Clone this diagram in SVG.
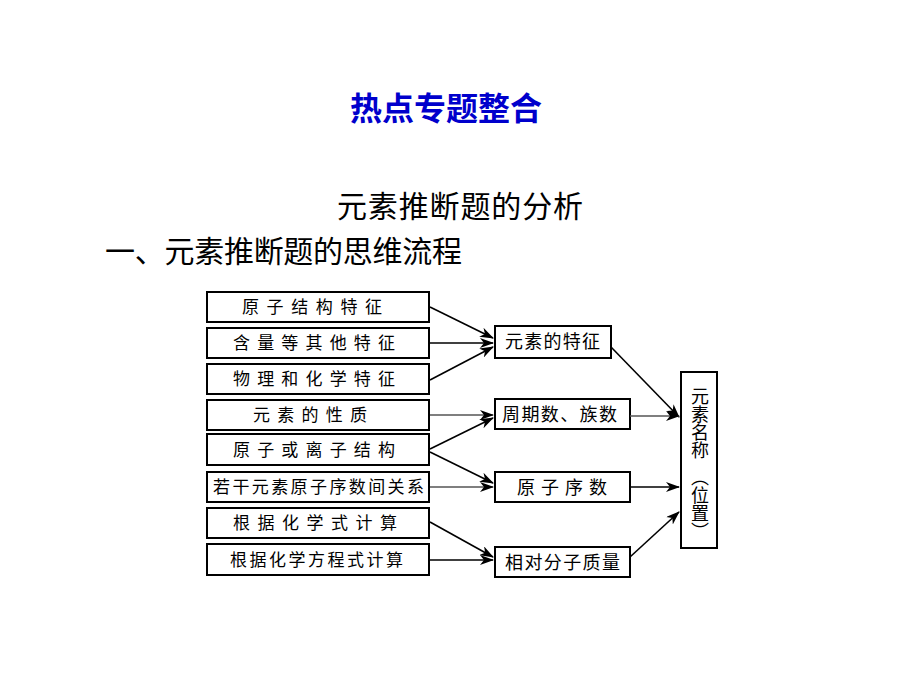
<svg xmlns="http://www.w3.org/2000/svg" width="920" height="690" viewBox="0 0 920 690">
<defs>
<style>
.bx{fill:#fff;stroke:#000;stroke-width:2}
.t{font-family:"Noto Sans CJK SC","Noto Sans CJK JP",sans-serif;fill:#000}
.lb{font-size:17px}
.mb{font-size:18px}
.vt{font-size:18px;writing-mode:vertical-rl}
.ln{stroke:#000;stroke-width:1.6;fill:none;marker-end:url(#ah)}
.lg{stroke:#555;stroke-width:1.3;fill:none;marker-end:url(#ah)}
</style>
<marker id="ah" viewBox="0 0 14 10" refX="13" refY="5" markerWidth="14" markerHeight="10" markerUnits="userSpaceOnUse" orient="auto">
<path d="M0,0 L14,5 L0,10 L4,5 Z" fill="#000"/>
</marker>
</defs>
<rect width="920" height="690" fill="#fff"/>
<text class="t" x="446" y="120" text-anchor="middle" font-size="32" font-weight="bold" style="fill:#0000cc">热点专题整合</text>
<text class="t" x="337" y="217" font-size="30" textLength="246" lengthAdjust="spacing">元素推断题的分析</text>
<text class="t" x="105" y="262" font-size="30" textLength="357" lengthAdjust="spacing">一、元素推断题的思维流程</text>

<g id="n1"><rect class="bx" x="207" y="292" width="222" height="30"/><text class="t lb" x="242" y="313" textLength="140" lengthAdjust="spacing">原子结构特征</text></g>
<g id="n2"><rect class="bx" x="207" y="328" width="222" height="30"/><text class="t lb" x="233" y="349" textLength="162" lengthAdjust="spacing">含量等其他特征</text></g>
<g id="n3"><rect class="bx" x="207" y="364" width="222" height="30"/><text class="t lb" x="233" y="385" textLength="162" lengthAdjust="spacing">物理和化学特征</text></g>
<g id="n4"><rect class="bx" x="207" y="400" width="222" height="30"/><text class="t lb" x="253" y="421" textLength="114" lengthAdjust="spacing">元素的性质</text></g>
<g id="n5"><rect class="bx" x="207" y="434" width="222" height="31"/><text class="t lb" x="233" y="456" textLength="162" lengthAdjust="spacing">原子或离子结构</text></g>
<g id="n6"><rect class="bx" x="207" y="472" width="222" height="30"/><text class="t lb" x="213" y="493" textLength="211" lengthAdjust="spacing">若干元素原子序数间关系</text></g>
<g id="n7"><rect class="bx" x="207" y="508" width="222" height="30"/><text class="t lb" x="233" y="529" textLength="164" lengthAdjust="spacing">根据化学式计算</text></g>
<g id="n8"><rect class="bx" x="207" y="544" width="222" height="31"/><text class="t lb" x="230" y="566" textLength="173" lengthAdjust="spacing">根据化学方程式计算</text></g>

<g id="m1"><rect class="bx" x="495" y="326" width="116" height="32"/><text class="t mb" x="505" y="348" textLength="95" lengthAdjust="spacing">元素的特征</text></g>
<g id="m2"><rect class="bx" x="495" y="399" width="135" height="30"/><text class="t mb" x="502" y="421" textLength="115" lengthAdjust="spacing">周期数、族数</text></g>
<g id="m3"><rect class="bx" x="495" y="472" width="135" height="30"/><text class="t mb" x="517" y="494" textLength="90" lengthAdjust="spacing">原子序数</text></g>
<g id="m4"><rect class="bx" x="495" y="547" width="135" height="30"/><text class="t mb" x="505" y="569" textLength="115" lengthAdjust="spacing">相对分子质量</text></g>

<g id="r1"><rect class="bx" x="681" y="372" width="36" height="176"/>
<text class="t vt" x="700" y="387">元素名称</text>
<text class="t vt" x="700" y="468">（位置）</text>
</g>

<g id="connectors">
<line class="ln" x1="430" y1="307" x2="493" y2="338"/>
<line class="ln" x1="430" y1="343" x2="493" y2="343"/>
<line class="ln" x1="430" y1="380" x2="493" y2="347"/>
<line class="ln" x1="611" y1="347" x2="679" y2="417"/>
<line class="lg" x1="430" y1="415" x2="493" y2="415"/>
<line class="lg" x1="630" y1="416" x2="679" y2="416"/>
<line class="ln" x1="430" y1="449" x2="493" y2="418"/>
<line class="ln" x1="430" y1="452" x2="493" y2="483"/>
<line class="lg" x1="430" y1="487" x2="493" y2="487"/>
<line class="ln" x1="630" y1="487" x2="679" y2="487"/>
<line class="ln" x1="430" y1="522" x2="493" y2="557"/>
<line class="ln" x1="430" y1="560" x2="493" y2="560"/>
<line class="ln" x1="630" y1="557" x2="679" y2="512"/>
</g>
</svg>
